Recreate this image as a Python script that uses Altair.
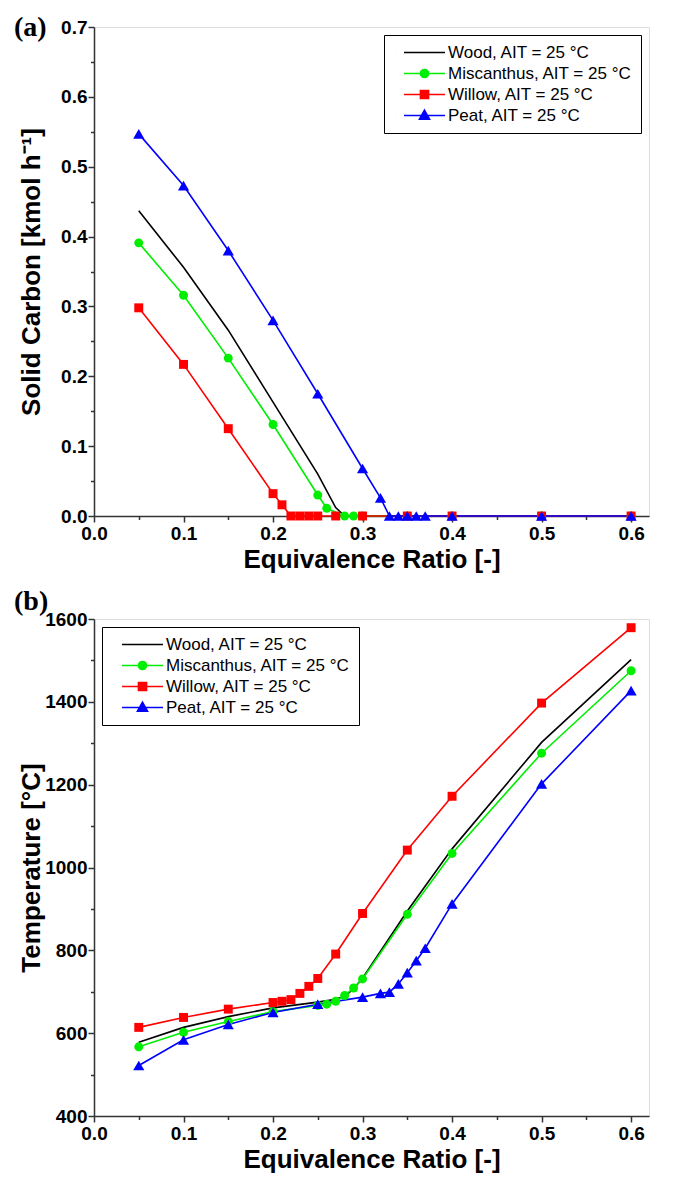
import altair as alt
import pandas as pd

SERIES = ["Wood, AIT = 25 °C", "Miscanthus, AIT = 25 °C", "Willow, AIT = 25 °C", "Peat, AIT = 25 °C"]
COLORS = ["#000000", "#00ee00", "#ff0000", "#0000ff"]
MARKERS = [None, "circle", "square", "triangle-up"]
MARKER_SIZES = [0, 80, 80, 125]

# ---------------- panel (a): solid carbon [kmol/h] ----------------
wood_a_x = [0.05, 0.10, 0.15, 0.20, 0.25, 0.27, 0.28, 0.30, 0.35, 0.40, 0.50, 0.60]
wood_a_y = [0.437, 0.356, 0.266, 0.163, 0.060, 0.012, 0.0, 0.0, 0.0, 0.0, 0.0, 0.0]
misc_a_x = [0.05, 0.10, 0.15, 0.20, 0.25, 0.26, 0.28, 0.29, 0.30, 0.35, 0.40, 0.50, 0.60]
misc_a_y = [0.391, 0.316, 0.226, 0.131, 0.030, 0.011, 0.0, 0.0, 0.0, 0.0, 0.0, 0.0, 0.0]
will_a_x = [0.05, 0.10, 0.15, 0.20, 0.21, 0.22, 0.23, 0.24, 0.25, 0.27, 0.30, 0.35, 0.40, 0.50, 0.60]
will_a_y = [0.298, 0.217, 0.125, 0.032, 0.016, 0.0, 0.0, 0.0, 0.0, 0.0, 0.0, 0.0, 0.0, 0.0, 0.0]
peat_a_x = [0.05, 0.10, 0.15, 0.20, 0.25, 0.30, 0.32, 0.33, 0.34, 0.35, 0.36, 0.37, 0.40, 0.50, 0.60]
peat_a_y = [0.547, 0.473, 0.380, 0.280, 0.175, 0.068, 0.026, 0.0, 0.0, 0.0, 0.0, 0.0, 0.0, 0.0, 0.0]

# ---------------- panel (b): temperature [°C] ----------------
wood_b_x = [0.05, 0.10, 0.15, 0.20, 0.25, 0.27, 0.28, 0.29, 0.30, 0.35, 0.40, 0.50, 0.60]
wood_b_y = [578, 614, 640, 661, 675, 682, 689, 707, 733, 895, 1045, 1302, 1502]
misc_b_x = [0.05, 0.10, 0.15, 0.20, 0.25, 0.26, 0.27, 0.28, 0.29, 0.30, 0.35, 0.40, 0.50, 0.60]
misc_b_y = [567, 602, 628, 652, 667, 670, 677, 691, 709, 731, 887, 1034, 1276, 1475]
will_b_x = [0.05, 0.10, 0.15, 0.20, 0.21, 0.22, 0.23, 0.24, 0.25, 0.27, 0.30, 0.35, 0.40, 0.50, 0.60]
will_b_y = [614, 638, 658, 674, 677, 681, 696, 713, 732, 791, 889, 1042, 1172, 1397, 1579]
peat_b_x = [0.05, 0.10, 0.15, 0.20, 0.25, 0.30, 0.32, 0.33, 0.34, 0.35, 0.36, 0.37, 0.40, 0.50, 0.60]
peat_b_y = [522, 584, 621, 650, 670, 687, 696, 699, 719, 746, 775, 805, 912, 1202, 1427]

X_TICKS = [round(0.05 * i, 2) for i in range(13)]
YA_TICKS = [round(0.05 * i, 2) for i in range(15)]
YB_TICKS = [400 + 100 * i for i in range(13)]

# legend glyphs: a line with the marker in the middle (custom symbol paths);
# the tiny leading segment is invisible and only widens the glyph's box on the left
LINE = "M-5.4,0L-5.39,0M-4,0L4,0"
LEGEND_PATHS = [
    LINE,
    LINE + "M0.8,0A0.8,0.8,0,1,1,-0.8,0A0.8,0.8,0,1,1,0.8,0Z",
    LINE + "M-0.8,-0.8L0.8,-0.8L0.8,0.8L-0.8,0.8Z",
    LINE + "M0,-1.05L1,0.75L-1,0.75Z",
]


def long_frame(pairs):
    rows = []
    for name, xs, ys in pairs:
        for x, y in zip(xs, ys):
            rows.append({"series": name, "x": x, "y": y})
    return pd.DataFrame(rows)


df_a = long_frame([(SERIES[0], wood_a_x, wood_a_y), (SERIES[1], misc_a_x, misc_a_y),
                   (SERIES[2], will_a_x, will_a_y), (SERIES[3], peat_a_x, peat_a_y)])
df_b = long_frame([(SERIES[0], wood_b_x, wood_b_y), (SERIES[1], misc_b_x, misc_b_y),
                   (SERIES[2], will_b_x, will_b_y), (SERIES[3], peat_b_x, peat_b_y)])

FRAME = "#333333"
LABEL_FONT = "Liberation Sans"


def axis(values, major_test, label_expr, title, title_pad, label_pad):
    return alt.Axis(
        values=values, title=title, grid=False,
        labelExpr=label_expr, labelOverlap=False, labelFlush=False,
        tickSize={"condition": {"test": major_test, "value": 6}, "value": 3.5},
        tickWidth=1.5, tickColor=FRAME, domainColor=FRAME, domainWidth=1.5,
        labelFont=LABEL_FONT, labelFontWeight="bold", labelFontSize=19, labelColor="black",
        labelPadding=label_pad,
        titleFont=LABEL_FONT, titleFontWeight="bold", titleFontSize=26, titleColor="black",
        titlePadding=title_pad,
    )


def panel(df, ydom, yticks, ymajor, ylabel, ytitle, ytitle_pad, tag, tag_offset,
          legend_orient, height):
    xenc = alt.X("x:Q", scale=alt.Scale(domain=[0, 0.62], nice=False, zero=False),
                 axis=axis(X_TICKS, "round(datum.value*100) % 10 == 0",
                           "round(datum.value*100) % 10 == 0 ? format(datum.value, '.1f') : ''",
                           "Equivalence Ratio [-]", 3, 2))
    yenc = alt.Y("y:Q", scale=alt.Scale(domain=ydom, nice=False, zero=False),
                 axis=axis(yticks, ymajor, ylabel, ytitle, ytitle_pad, 1))
    col = alt.Color("series:N", scale=alt.Scale(domain=SERIES, range=COLORS), legend=None)
    base = alt.Chart(df).encode(x=xenc, y=yenc)

    lines = base.mark_line(strokeWidth=1.6).encode(color=col, order="x:Q")
    layers = [lines]
    for name, shape, size in zip(SERIES, MARKERS, MARKER_SIZES):
        if shape is None:
            continue
        layers.append(
            base.transform_filter(alt.datum.series == name)
            .mark_point(shape=shape, filled=True, size=size, opacity=1)
            .encode(color=col)
        )

    leg = alt.Legend(
        title=None, orient=legend_orient, offset=8, padding=9,
        strokeColor="black", fillColor="white", cornerRadius=0,
        symbolSize=105, symbolStrokeWidth=1.5, symbolOffset=23, labelOffset=15,
        labelFont=LABEL_FONT, labelFontSize=17, labelColor="black", labelLimit=500,
        rowPadding=3,
    )
    legend_layer = (
        base.transform_filter("false")
        .mark_point(filled=True, size=105, opacity=1, strokeWidth=1.5)
        .encode(
            fill=alt.Fill("series:N", scale=alt.Scale(domain=SERIES, range=COLORS), legend=leg),
            stroke=alt.Stroke("series:N", scale=alt.Scale(domain=SERIES, range=COLORS), legend=leg),
            shape=alt.Shape("series:N", scale=alt.Scale(domain=SERIES, range=LEGEND_PATHS), legend=leg),
        )
    )
    layers.append(legend_layer)

    return alt.layer(*layers).properties(
        width=555, height=height,
        title=alt.TitleParams(text=tag, anchor="start", frame="group", dx=-80, offset=tag_offset,
                              font="Liberation Serif", fontSize=28, fontWeight="bold", color="black"),
    )


top = panel(df_a, [0, 0.7], YA_TICKS, "round(datum.value*100) % 10 == 0",
            "round(datum.value*100) % 10 == 0 ? format(datum.value, '.1f') : ''",
            "Solid Carbon [kmol h⁻¹]", 16, "(a)", -24, "top-right", 489)
bottom = panel(df_b, [400, 1600], YB_TICKS, "datum.value % 200 == 0",
               "datum.value % 200 == 0 ? format(datum.value, 'd') : ''",
               "Temperature [°C]", 0, "(b)", -6, "top-left", 497)

chart = (
    alt.vconcat(top, bottom, spacing=14)
    .configure_view(stroke=FRAME, strokeWidth=1.5)
    .configure(background="white")
)

chart.save("out.html", embed_options={"renderer": "svg", "actions": False})
